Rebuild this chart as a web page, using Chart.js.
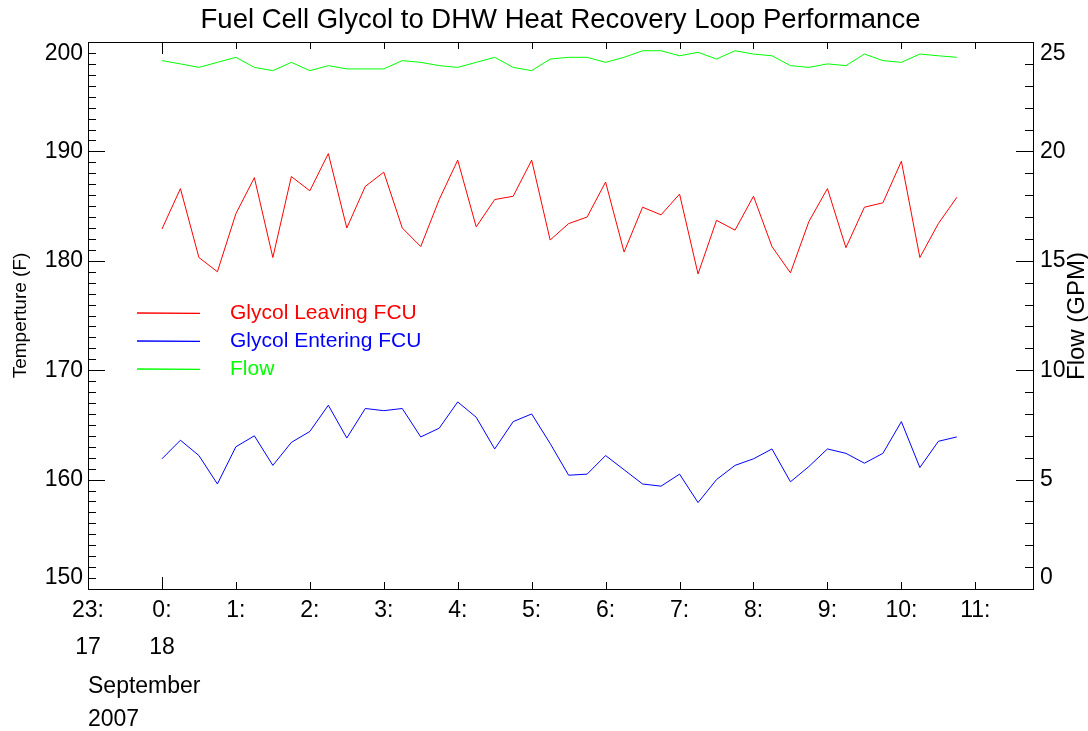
<!DOCTYPE html>
<html><head><meta charset="utf-8">
<script src="https://cdn.jsdelivr.net/npm/chart.js@4.4.1/dist/chart.umd.min.js"></script>
<style>html,body{margin:0;padding:0;background:#fff;}canvas{display:block}</style>
</head><body>
<canvas id="c" width="1088" height="731"></canvas>
<script>
const times = ["0:00","0:15","0:30","0:45","1:00","1:15","1:30","1:45","2:00","2:15","2:30","2:45",
  "3:00","3:15","3:30","3:45","4:00","4:15","4:30","4:45","5:00","5:15","5:30","5:45",
  "6:00","6:15","6:30","6:45","7:00","7:15","7:30","7:45","8:00","8:15","8:30","8:45",
  "9:00","9:15","9:30","9:45","10:00","10:15","10:30","10:45"];
const glycolLeaving = [182.9,186.6,180.3,179.0,184.3,187.6,180.3,187.7,186.4,189.8,183.0,186.8,
  188.1,183.0,181.3,185.6,189.2,183.1,185.6,185.9,189.2,181.9,183.4,184.0,
  187.2,180.8,184.9,184.2,186.1,178.8,183.7,182.8,185.9,181.3,178.9,183.6,
  186.6,181.2,184.9,185.3,189.1,180.3,183.4,185.8];
const glycolEntering = [161.9,163.6,162.2,159.6,163.0,164.0,161.3,163.4,164.4,166.8,163.8,166.5,
  166.3,166.5,163.9,164.7,167.1,165.7,162.8,165.3,166.0,163.3,160.4,160.5,
  162.2,160.9,159.6,159.4,160.5,157.9,160.0,161.3,161.9,162.8,159.8,161.2,
  162.8,162.4,161.5,162.4,165.3,161.1,163.5,163.9];
const flowGPM = [24.15,24.0,23.84,24.07,24.30,23.84,23.69,24.07,23.69,23.92,23.77,23.77,
  23.77,24.15,24.07,23.92,23.84,24.07,24.30,23.84,23.69,24.22,24.30,24.30,
  24.07,24.30,24.60,24.60,24.37,24.53,24.22,24.60,24.45,24.37,23.92,23.84,
  24.0,23.92,24.45,24.15,24.07,24.45,24.37,24.30];
const xTickHours = [-1,0,1,2,3,4,5,6,7,8,9,10,11];
const xTickLabels = [["23:","17"],["0:","18"],"1:","2:","3:","4:","5:","6:","7:","8:","9:","10:","11:"];
const tempTicks = [150,160,170,180,190,200];
const flowTicks = [0,5,10,15,20,25];
const seriesNames = ["Glycol Leaving FCU","Glycol Entering FCU","Flow"];
const seriesColors = ["#ff0000","#0000ff","#00ff00"];

const FONT = "'Liberation Sans', Arial, Helvetica, sans-serif";
function toHours(t){ const p = t.split(':').map(Number); return p[0] + p[1]/60; }
function pts(arr){ return times.map((t,i)=>({x:toHours(t), y:arr[i]})); }

const frame = {
  id:'frame',
  afterDatasetsDraw(chart){
    const {ctx, chartArea:a, scales} = chart;
    ctx.save();
    ctx.strokeStyle = '#000'; ctx.lineWidth = 1;
    ctx.strokeRect(Math.round(a.left)+0.5, Math.round(a.top)+0.5, Math.round(a.right-a.left), Math.round(a.bottom-a.top));
    ctx.beginPath();
    xTickHours.forEach(h=>{
      const px = Math.round(scales.x.getPixelForValue(h))+0.5;
      const len = h===0 ? 12 : 7;
      ctx.moveTo(px,a.bottom); ctx.lineTo(px,a.bottom-len);
      ctx.moveTo(px,a.top); ctx.lineTo(px,a.top+len);
    });
    for(let v=scales.y.min; v<=scales.y.max; v++){
      const py = Math.round(scales.y.getPixelForValue(v))+0.5;
      const len = v%10===0 ? 17 : 8;
      ctx.moveTo(a.left,py); ctx.lineTo(a.left+len,py);
    }
    for(let v=scales.y2.min; v<=scales.y2.max; v++){
      const py = Math.round(scales.y2.getPixelForValue(v))+0.5;
      const len = v%5===0 ? 17 : 8;
      ctx.moveTo(a.right,py); ctx.lineTo(a.right-len,py);
    }
    ctx.stroke();
    ctx.restore();
  },
  afterDraw(chart){
    const {ctx} = chart;
    ctx.save();
    const rows = [313,341,369];
    chart.data.datasets.forEach((ds,i)=>{
      const col = seriesColors[i];
      ctx.strokeStyle = col; ctx.lineWidth = 1.3;
      ctx.beginPath(); ctx.moveTo(137, rows[i]); ctx.lineTo(200, rows[i] + 0.4); ctx.stroke();
      ctx.fillStyle = col;
      ctx.font = '21px ' + FONT; ctx.textBaseline = 'middle'; ctx.textAlign = 'left';
      ctx.fillText(ds.label, 230, rows[i]);
    });
    ctx.translate(1077, 316); ctx.rotate(-Math.PI/2);
    ctx.fillStyle = '#000'; ctx.font = '24px ' + FONT; ctx.textAlign = 'center'; ctx.textBaseline = 'middle';
    ctx.fillText('Flow (GPM)', 0, 0);
    ctx.restore();
  }
};

new Chart(document.getElementById('c'), {
  type:'line',
  data:{ datasets:[
    {label:seriesNames[0], data:pts(glycolLeaving), borderColor:seriesColors[0], yAxisID:'y'},
    {label:seriesNames[1], data:pts(glycolEntering), borderColor:seriesColors[1], yAxisID:'y'},
    {label:seriesNames[2], data:pts(flowGPM), borderColor:seriesColors[2], yAxisID:'y2'}
  ]},
  options:{
    responsive:false, animation:false, devicePixelRatio:1,
    layout:{padding:0},
    elements:{point:{radius:0}, line:{borderWidth:1, tension:0}},
    plugins:{
      legend:{display:false}, tooltip:{enabled:false},
      title:{display:true, fullSize:false, text:'Fuel Cell Glycol to DHW Heat Recovery Loop Performance', color:'#000',
        font:{family:FONT, size:27.5, weight:'normal', lineHeight:1.2}, padding:{top:4, bottom:5}}
    },
    scales:{
      x:{type:'linear', position:'bottom', min:-1, max:11.78,
        afterBuildTicks: s => { s.ticks = xTickHours.map(v=>({value:v})); },
        afterFit: s => { s.height = 142; },
        grid:{display:false, drawTicks:false}, border:{display:false},
        ticks:{autoSkip:false, maxRotation:0, minRotation:0, padding:3, color:'#000',
          font:{family:FONT, size:23, lineHeight:1.6},
          callback: v => { const i = xTickHours.indexOf(v); return i>=0 ? xTickLabels[i] : ''; }},
        title:{display:true, text:['September','2007'], align:'start', color:'#000',
          font:{family:FONT, size:23, lineHeight:1.435}, padding:{top:0, bottom:-5}}
      },
      y:{type:'linear', position:'left', min:150, max:200,
        afterBuildTicks: s => { s.ticks = tempTicks.map(v=>({value:v})); },
        afterFit: s => { s.width = 88; },
        grid:{display:false, drawTicks:false}, border:{display:false},
        ticks:{padding:5, color:'#000', font:{family:FONT, size:23, lineHeight:1},
          callback: v => v===200 ? ['', '200'] : (v===150 ? ['150',''] : String(v))},
        title:{display:true, text:'Temperture (F)', color:'#000', font:{family:FONT, size:19, lineHeight:1.2}, padding:{top:9, bottom:0}}
      },
      y2:{type:'linear', position:'right', min:0, max:25,
        afterBuildTicks: s => { s.ticks = flowTicks.map(v=>({value:v})); },
        afterFit: s => { s.width = 55; },
        grid:{display:false, drawTicks:false}, border:{display:false},
        ticks:{padding:7, color:'#000', font:{family:FONT, size:23, lineHeight:1},
          callback: v => v===25 ? ['', '25'] : (v===0 ? ['0',''] : String(v))},
        title:{display:false}
      }
    }
  },
  plugins:[frame]
});
</script>
</body></html>
